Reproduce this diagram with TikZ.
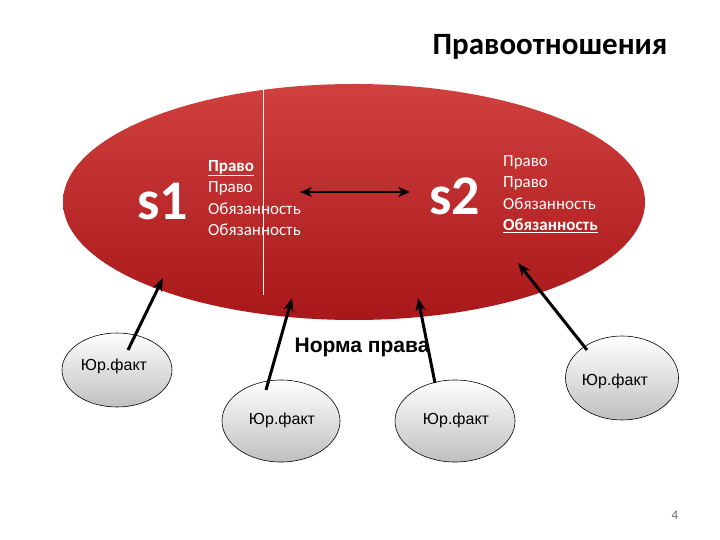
\documentclass[tikz,border=0pt]{standalone}
\usepackage{fontspec}
\setmainfont{Carlito}
\newfontfamily\arialf{Liberation Sans}
\usetikzlibrary{arrows.meta,shapes.geometric}
\definecolor{redtop}{RGB}{208,64,62}
\definecolor{redbot}{RGB}{168,24,26}
\tikzset{
 fact/.style={ellipse,draw=black,line width=0.6pt,top color=white,bottom color=black!25,inner sep=0pt},
 arr/.style={-{Stealth[length=13pt,width=10pt]},line width=3pt},
 wtxt/.style={text=white,align=left,anchor=north west,font=\fontsize{17}{21.5}\selectfont,inner sep=0pt},
 facttxt/.style={font=\arialf\fontsize{16}{18}\selectfont}
}
\begin{document}
\begin{tikzpicture}[x=1pt,y=-1pt]
\useasboundingbox (0,0) rectangle (720,540);
\node[ellipse,minimum width=582pt,minimum height=236pt,inner sep=0pt,top color=redtop,bottom color=redbot] (big) at (354,202) {};
\draw[white,line width=1pt] (263,90) -- (263,295);
\node[font=\bfseries\fontsize{31}{36}\selectfont] (title) at (550,47) {Правоотношения};
\node[font=\bfseries\fontsize{56}{60}\selectfont,text=white] (s1) at (163,202) {s1};
\node[font=\bfseries\fontsize{56}{60}\selectfont,text=white] (s2) at (455,196) {s2};
\node[wtxt] (t1) at (208,160) {\underline{\textbf{Право}}\\Право\\Обязанность\\Обязанность};
\node[wtxt] (t2) at (503,155) {Право\\Право\\Обязанность\\\underline{\textbf{Обязанность}}};
\coordinate (da) at (300,192); \coordinate (db) at (410,192);
\draw[{Stealth[length=12pt,width=10pt]}-{Stealth[length=12pt,width=10pt]},line width=2.5pt] (da) -- (db);
\node[fact,minimum width=110pt,minimum height=74pt] (f1) at (117,370) {};
\node[fact,minimum width=118pt,minimum height=82pt] (f2) at (281,421) {};
\node[fact,minimum width=120pt,minimum height=82pt] (f3) at (455,421) {};
\node[fact,minimum width=113pt,minimum height=84pt] (f4) at (622,378) {};
\node[facttxt] (l1) at (114,366) {Юр.факт};
\node[facttxt] (l2) at (282,420) {Юр.факт};
\node[facttxt] (l3) at (456,420) {Юр.факт};
\node[facttxt] (l4) at (615,381) {Юр.факт};
\node[font=\arialf\bfseries\fontsize{21}{24}\selectfont] (norm) at (362,347) {Норма права};
\coordinate (e1) at (163,278); \coordinate (e2) at (292,298);
\coordinate (e3) at (418,298); \coordinate (e4) at (518,263);
\coordinate (b1) at (128,350); \coordinate (b2) at (266,390);
\coordinate (b3) at (435,383); \coordinate (b4) at (587,350);
\draw[arr] (b1) -- (e1);
\draw[arr] (b2) -- (e2);
\draw[arr] (b3) -- (e3);
\draw[arr] (b4) -- (e4);
\node[text=black!60,font=\fontsize{13}{14}\selectfont] (pg) at (675,515) {4};
\end{tikzpicture}
\end{document}
